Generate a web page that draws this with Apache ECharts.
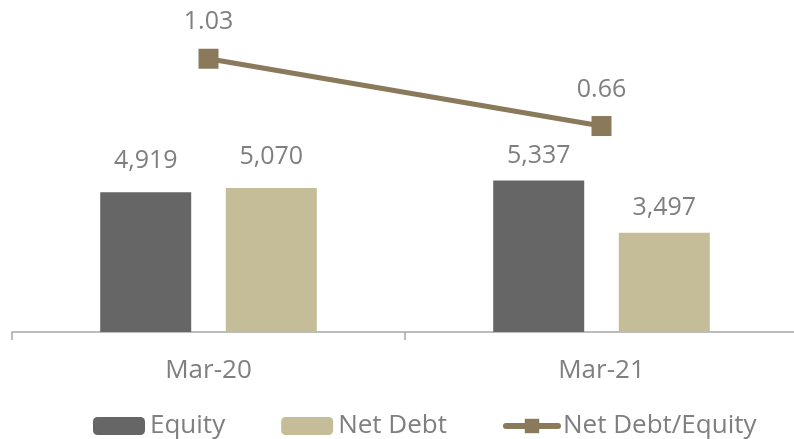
<!DOCTYPE html>
<html>
<head>
<meta charset="utf-8">
<script src="https://cdn.jsdelivr.net/npm/echarts@6/dist/echarts.min.js"></script>
<style>
  html, body { margin: 0; padding: 0; background: #fff; }
  #chart { width: 794px; height: 439px; }
</style>
</head>
<body>
<div id="chart"></div>
<script>
const categories = ["Mar-20", "Mar-21"];
const equity = [4919, 5337];
const netDebt = [5070, 3497];
const debtToEquity = [1.03, 0.66];

// label lift above the bars, per category (the source nudged them by hand)
const barLabelLift = [19, 12];

const textColor = "#7f7f7f";
const lineColor = "#8a795a";
const font = "'Open Sans', sans-serif";

function barData(values) {
  return values.map(function(v, i) {
    return { value: v, label: { distance: barLabelLift[i] } };
  });
}

const myChart = echarts.init(document.getElementById("chart"));
const option = {
  animation: false,
  grid: { left: 12, top: 12, width: 786, height: 320, outerBoundsMode: "none" },
  legend: {
    left: 93,
    top: 413,
    padding: 0,
    itemWidth: 52,
    itemHeight: 18,
    itemGap: 56,
    textStyle: { color: textColor, fontSize: 26, fontFamily: font },
    data: [
      "Equity",
      "Net Debt",
      {
        name: "Net Debt/Equity",
        lineStyle: { width: 6, cap: "round", color: lineColor },
        itemStyle: { color: lineColor }
      }
    ]
  },
  xAxis: {
    type: "category",
    data: categories,
    axisLine: { lineStyle: { color: "#a6a6a6", width: 1.5 } },
    axisTick: { show: true, length: 8, lineStyle: { color: "#a6a6a6", width: 1.5 } },
    axisLabel: { color: textColor, fontSize: 26, fontFamily: font, margin: 26 }
  },
  yAxis: [
    { type: "value", min: 0, max: 11268, show: false, splitLine: { show: false } },
    { type: "value", min: -0.4725, max: 1.287, show: false, splitLine: { show: false } }
  ],
  series: [
    {
      name: "Equity",
      type: "bar",
      barWidth: 91,
      barGap: "38%",
      itemStyle: { color: "#666666" },
      label: {
        show: true,
        position: "top",
        color: textColor,
        fontSize: 25,
        fontFamily: font,
        formatter: function(p) { return p.value.toLocaleString("en-US"); }
      },
      data: barData(equity)
    },
    {
      name: "Net Debt",
      type: "bar",
      barWidth: 91,
      barGap: "38%",
      itemStyle: { color: "#c5bd98" },
      label: {
        show: true,
        position: "top",
        color: textColor,
        fontSize: 25,
        fontFamily: font,
        formatter: function(p) { return p.value.toLocaleString("en-US"); }
      },
      data: barData(netDebt)
    },
    {
      name: "Net Debt/Equity",
      type: "line",
      yAxisIndex: 1,
      symbol: "rect",
      symbolSize: 20,
      lineStyle: { color: lineColor, width: 5 },
      itemStyle: { color: lineColor },
      label: {
        show: true,
        position: "top",
        distance: 14,
        color: textColor,
        fontSize: 25,
        fontFamily: font,
        formatter: function(p) { return p.value.toFixed(2); }
      },
      data: debtToEquity
    }
  ]
};
myChart.setOption(option);
</script>
</body>
</html>
